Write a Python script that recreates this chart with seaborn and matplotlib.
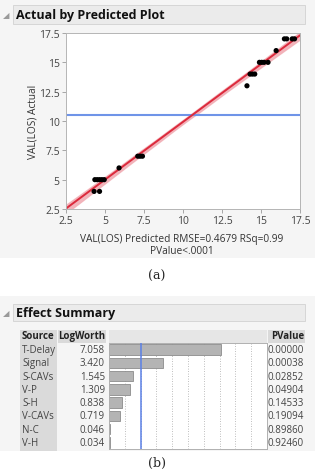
# JMP-style "Actual by Predicted" plot + "Effect Summary" table, redrawn with seaborn

import numpy as np
import matplotlib.pyplot as plt
import seaborn as sns
from matplotlib.patches import Rectangle
from matplotlib.transforms import blended_transform_factory

# --- data --------------------------------------------------------------------

predicted = [4.30, 4.65, 4.35, 4.50, 4.65, 4.80, 4.95, 5.90, 7.10, 7.25, 7.40,
             14.10, 14.30, 14.45, 14.60, 14.90, 15.05, 15.20, 15.45, 15.97,
             16.50, 16.65, 17.00, 17.15]
actual = [4, 4, 5, 5, 5, 5, 5, 6, 7, 7, 7,
          13, 14, 14, 14, 15, 15, 15, 15, 16,
          17, 17, 17, 17]
actual_mean = 10.5
axis_ticks = [2.5, 5, 7.5, 10, 12.5, 15, 17.5]
axis_ticklabels = ["2.5", "5", "7.5", "10", "12.5", "15", "17.5"]

sources = ["T-Delay", "Signal", "S-CAVs", "V-P", "S-H", "V-CAVs", "N-C", "V-H"]
logworth = [7.058, 3.420, 1.545, 1.309, 0.838, 0.719, 0.046, 0.034]
pvalues = ["0.00000", "0.00038", "0.02852", "0.04904", "0.14533", "0.19094", "0.89860", "0.92460"]
logworth_ref = 2  # p = 0.01

# --- setup -------------------------------------------------------------------

sns.set_theme(style="white")
plt.rcParams["font.family"] = ["Open Sans", "DejaVu Sans"]

W, H = 315, 477
fig = plt.figure(figsize=(W / 100, H / 100), dpi=100)
fig.patch.set_facecolor("white")


def px(x, y):
    return x / W, 1 - y / H


def box(x0, y0, x1, y1, fc, ec="none", lw=0.0):
    fx, fy = px(x0, y1)
    fig.patches.append(Rectangle((fx, fy), (x1 - x0) / W, (y1 - y0) / H, transform=fig.transFigure,
                                 facecolor=fc, edgecolor=ec, linewidth=lw, zorder=-1))


# panel backgrounds and header bars
box(0, 0, 315, 259, "#f5f5f5")
box(0, 297, 315, 452, "#f5f5f5")
box(13, 6, 305, 25, "#ebebeb", "#d2d2d2", 0.6)
box(13, 305, 305, 322, "#ebebeb", "#d2d2d2", 0.6)

fig.text(*px(3, 16), "◢", fontsize=6, color="#9a9a9a", va="center", family="DejaVu Sans")
fig.text(*px(16, 16), "Actual by Predicted Plot", fontsize=9, fontweight="bold", va="center", color="#111")
fig.text(*px(3, 314), "◢", fontsize=6, color="#9a9a9a", va="center", family="DejaVu Sans")
fig.text(*px(16, 314), "Effect Summary", fontsize=9, fontweight="bold", va="center", color="#111")

# --- (a) actual by predicted -------------------------------------------------

l, b = px(66, 210)
ax1 = fig.add_axes([l, b, 234 / W, 176 / H])
ax1.set_facecolor("white")
ax1.set_xlim(2.5, 17.5)
ax1.set_ylim(2.5, 17.5)

sns.regplot(x=predicted, y=actual, ax=ax1, scatter=False, truncate=False, ci=99, seed=0,
            color="#dc2a3c", line_kws={"lw": 1.4, "zorder": 2})
for coll in ax1.collections:
    coll.set_alpha(0.35)
    coll.set_edgecolor("#ee8a94")
    coll.set_linewidth(0.6)
ax1.axhline(actual_mean, color="#6f94e8", lw=1.5, zorder=1)
sns.scatterplot(x=predicted, y=actual, ax=ax1, color="black", s=14, edgecolor="none", zorder=3)

ax1.set_xlim(2.5, 17.5)
ax1.set_ylim(2.5, 17.5)
ax1.set_xticks(axis_ticks, axis_ticklabels)
ax1.set_yticks(axis_ticks, axis_ticklabels)
ax1.tick_params(labelsize=7.5, labelcolor="#444", length=3, width=0.6, color="#999",
                left=True, bottom=True, pad=1.5)
for s in ax1.spines.values():
    s.set_color("#b5b5b5")
    s.set_linewidth(0.7)

fig.text(*px(33, 122), "VAL(LOS) Actual", rotation=90, fontsize=7.3, color="#333",
         ha="center", va="center")
fig.text(*px(182, 240), "VAL(LOS) Predicted RMSE=0.4679 RSq=0.99", fontsize=7.3, color="#333",
         ha="center", va="center")
fig.text(*px(182, 252), "PValue<.0001", fontsize=7.3, color="#333", ha="center", va="center")
fig.text(*px(157, 276), "(a)", fontsize=9, family="DejaVu Serif", ha="center", va="center")

# --- (b) effect summary ------------------------------------------------------

# table header and source column shading
box(20, 331, 57, 452, "#dadada")
box(58, 331, 106, 344, "#dadada")
box(109, 331, 267, 344, "#e6e6e6")
box(268, 331, 305, 344, "#dadada")

l, b = px(109, 450)
ax2 = fig.add_axes([l, b, 158 / W, 106 / H])
ax2.set_facecolor("white")
sns.barplot(x=logworth, y=sources, ax=ax2, color="#b4b4b4", saturation=1,
            edgecolor="#8c8c8c", linewidth=0.6, width=0.8, zorder=2)
ax2.set_xlim(0, 10)
ax2.set_ylim(len(sources) - 0.5, -0.5)
ax2.set_xticks(range(1, 10))
ax2.grid(axis="x", color="#a8a8a8", linestyle=(0, (1, 2)), linewidth=0.6)
ax2.axvline(logworth_ref, color="#5b80e6", lw=1.1, zorder=3)
ax2.tick_params(left=False, bottom=False, labelleft=False, labelbottom=False)
ax2.set_xlabel("")
ax2.set_ylabel("")
for s in ax2.spines.values():
    s.set_color("#b0b0b0")
    s.set_linewidth(0.7)

tr = blended_transform_factory(fig.transFigure, ax2.transData)
hy = -1.03
fig.text(22 / W, hy, "Source", transform=tr, fontsize=7, fontweight="bold", va="center", color="#222")
fig.text(105 / W, hy, "LogWorth", transform=tr, fontsize=7, fontweight="bold", va="center",
         ha="right", color="#222")
fig.text(304 / W, hy, "PValue", transform=tr, fontsize=7, fontweight="bold", va="center",
         ha="right", color="#222")
for i, (src, lw_, pv) in enumerate(zip(sources, logworth, pvalues)):
    fig.text(22 / W, i, src, transform=tr, fontsize=7, va="center", color="#444")
    fig.text(105 / W, i, f"{lw_:.3f}", transform=tr, fontsize=7, va="center", ha="right", color="#444")
    fig.text(304 / W, i, pv, transform=tr, fontsize=7, va="center", ha="right", color="#444")

fig.text(*px(157, 463), "(b)", fontsize=9, family="DejaVu Serif", ha="center", va="center")

fig.savefig("out.png", dpi=100, facecolor=fig.get_facecolor())
